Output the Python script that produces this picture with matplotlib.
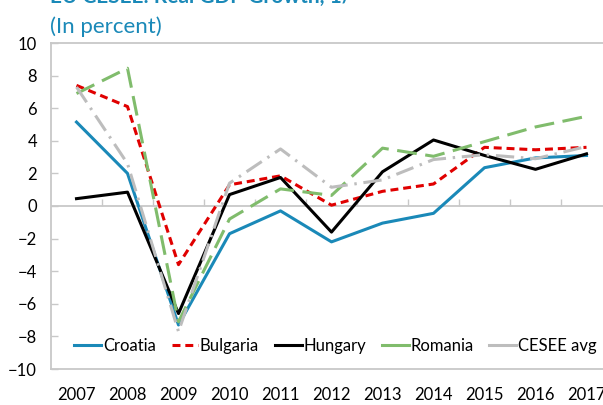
import matplotlib
matplotlib.use('Agg')
import matplotlib.pyplot as plt
from matplotlib.lines import Line2D

plt.rcParams['font.family'] = ['Lato', 'DejaVu Sans']

years = ['2007', '2008', '2009', '2010', '2011', '2012', '2013', '2014', '2015', '2016', '2017']
croatia = [5.15, 2.0, -7.3, -1.7, -0.3, -2.2, -1.05, -0.45, 2.35, 2.95, 3.1]
bulgaria = [7.4, 6.1, -3.6, 1.3, 1.85, 0.05, 0.9, 1.35, 3.6, 3.45, 3.6]
hungary = [0.45, 0.85, -6.6, 0.7, 1.75, -1.6, 2.1, 4.05, 3.1, 2.25, 3.2]
romania = [6.9, 8.45, -7.1, -0.8, 1.05, 0.65, 3.55, 3.05, 3.95, 4.85, 5.5]
cesee = [7.3, 2.6, -7.7, 1.4, 3.5, 1.15, 1.6, 2.85, 3.15, 2.9, 3.65]

blue = '#1A89B8'
red = '#E00000'
green = '#80BC6C'
gray = '#BDBDBD'
axis_gray = '#C8C8C8'

fig = plt.figure(figsize=(6.03, 4.05), dpi=100)
ax = fig.add_axes([51 / 603, 36 / 405, 561 / 603, 326 / 405])

x = list(range(len(years)))
lw = 2.2
ax.plot(x, croatia, color=blue, lw=lw)
ax.plot(x, bulgaria, color=red, lw=lw, dashes=(2.6, 1.6))
ax.plot(x, hungary, color='black', lw=lw)
ax.plot(x, romania, color=green, lw=lw, dashes=(6.5, 2.8))
ax.plot(x, cesee, color=gray, lw=lw, dashes=(6, 2.2, 0.8, 2.2))

ax.set_xlim(-0.5, len(years) - 0.5)
ax.set_ylim(-10, 10)
ax.set_yticks(range(-10, 11, 2))
ax.set_xticks(x)
ax.set_xticklabels(years)
ax.tick_params(axis='x', length=0, pad=13, labelsize=12)
ax.tick_params(axis='y', direction='in', length=5, width=1, color=axis_gray, pad=10, labelsize=12)

for s in ax.spines.values():
    s.set_color(axis_gray)
    s.set_linewidth(1.3)

# zero line with category separators
ax.axhline(0, color=axis_gray, lw=1.3, zorder=1)
ax.vlines([i + 0.5 for i in x[:-1]], 0, 0.4, color=axis_gray, lw=1.0, zorder=1)

handles = [
    Line2D([], [], color=blue, lw=lw),
    Line2D([], [], color=red, lw=lw, dashes=(2.6, 1.6)),
    Line2D([], [], color='black', lw=lw),
    Line2D([], [], color=green, lw=lw),
    Line2D([], [], color=gray, lw=lw),
]
labels = ['Croatia', 'Bulgaria', 'Hungary', 'Romania', 'CESEE avg']
ax.legend(handles, labels, loc='lower left', bbox_to_anchor=(0.03, 0.025), ncol=5,
          frameon=False, fontsize=12, handlelength=1.6, handletextpad=0.1,
          columnspacing=0.95, borderaxespad=0)

fig.text(50 / 603, 1 - 3 / 405, 'EU CESEE: Real GDP Growth, 1/', color=blue,
         fontsize=15, fontweight='bold', va='baseline', ha='left')
fig.text(50 / 603, 1 - 33 / 405, '(In percent)', color=blue,
         fontsize=16, va='baseline', ha='left')

fig.savefig('out.png', dpi=100)
